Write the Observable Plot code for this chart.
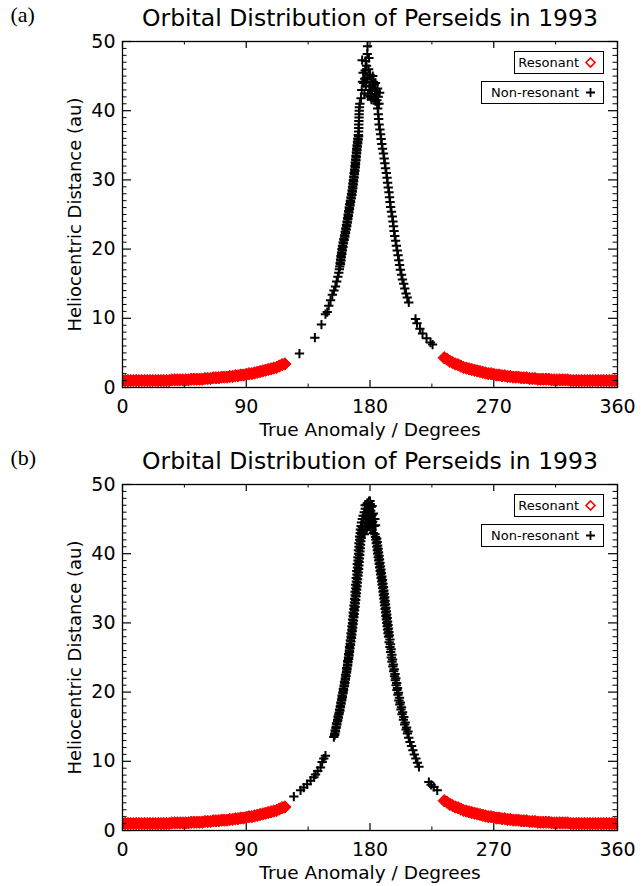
<!DOCTYPE html>
<html><head><meta charset="utf-8">
<script src="https://cdn.jsdelivr.net/npm/d3@7"></script>
<script src="https://cdn.jsdelivr.net/npm/@observablehq/plot@0.6"></script>
<style>
body{margin:0;background:#fff;}
#wrap{position:relative;width:644px;height:886px;font-family:"DejaVu Sans",sans-serif;}
.panel{position:relative;width:644px;height:443px;}
.panel svg{display:block;overflow:visible}
.leg{position:absolute;border:1px solid #000;background:#fff;height:23px;display:flex;align-items:center;justify-content:flex-end;padding:0 7px 0 0;box-sizing:border-box;font-size:13px;gap:6px;color:#000;line-height:1}
.leg svg{display:block}
</style></head><body><div id="wrap"></div>
<script>
// ---- text ----
const panelLabels = ["(a)", "(b)"];
const titles = ["Orbital Distribution of Perseids in 1993", "Orbital Distribution of Perseids in 1993"];
const xTitle = "True Anomaly / Degrees";
const yTitle = "Heliocentric Distance (au)";
const legendLabels = ["Resonant", "Non-resonant"];

// ---- ticks ----
const xTicks = [0, 90, 180, 270, 360];
const xMinorTicks = [45, 135, 225, 315];
const yTicks = [0, 10, 20, 30, 40, 50];
const yMinorTicks = [1,2,3,4,5,6,7,8,9,11,12,13,14,15,16,17,18,19,21,22,23,24,25,26,27,28,29,31,32,33,34,35,36,37,38,39,41,42,43,44,45,46,47,48,49];

// ---- resonant meteoroids (same band in both panels) : true anomaly (deg), distance (au) ----
const resonantAnomaly = [0,2,4,6,8,10,12,14,16,18,20,22,24,26,28,30,32,34,36,38,40,42,44,46,48,50,52,54,56,58,60,62,64,66,68,70,72,74,76,78,80,82,84,86,88,90,92,94,96,98,100,102,104,106,108,110,112,114,116,118,
  234,236,238,240,242,244,246,248,250,252,254,256,258,260,262,264,266,268,270,272,274,276,278,280,282,284,286,288,290,292,294,296,298,300,302,304,306,308,310,312,314,316,318,320,322,324,326,328,330,332,334,336,338,340,342,344,346,348,350,352,354,356,358,360];
const resonantDistance = [1.0,1.0,1.0,1.0,1.0,1.0,1.0,1.0,1.0,1.0,1.0,1.0,1.0,1.0,1.0,1.0,1.0,1.0,1.1,1.1,1.1,1.1,1.1,1.1,1.1,1.2,1.2,1.2,1.2,1.2,1.3,1.3,1.3,1.4,1.4,1.4,1.5,1.5,1.5,1.6,1.6,1.7,1.7,1.8,1.8,1.9,2.0,2.0,2.1,2.2,2.3,2.4,2.5,2.6,2.7,2.8,2.9,3.1,3.3,3.4,
  4.3,4.1,3.8,3.6,3.4,3.3,3.1,2.9,2.8,2.7,2.6,2.5,2.4,2.3,2.2,2.1,2.0,2.0,1.9,1.8,1.8,1.7,1.7,1.6,1.6,1.5,1.5,1.5,1.4,1.4,1.4,1.3,1.3,1.3,1.2,1.2,1.2,1.2,1.2,1.1,1.1,1.1,1.1,1.1,1.1,1.1,1.0,1.0,1.0,1.0,1.0,1.0,1.0,1.0,1.0,1.0,1.0,1.0,1.0,1.0,1.0,1.0,1.0,1.0];

// ---- non-resonant meteoroids, panel (a): [true anomaly, distance] ----
const nonResonantA = [
  [128.7,4.9],[139.9,7.2],[144.7,9.1],[147.6,10.6],[148.9,10.9],[150.0,11.8],[151.3,12.6],[152.6,13.4],[153.8,14.0],[154.9,14.6],[155.8,15.3],[156.6,16.0],[157.3,16.6],[157.7,17.1],
  [158.0,17.5],[158.3,18.0],[158.6,18.5],[158.9,19.0],[159.3,19.5],[159.6,20.0],[160.0,20.5],[160.5,21.0],[161.0,21.5],[161.5,22.0],[162.0,22.5],[162.4,23.0],[162.9,23.5],[163.3,24.0],[163.7,24.5],[164.1,25.0],[164.5,25.5],[164.9,26.0],[165.3,26.5],[165.7,27.0],[166.2,27.5],[166.6,28.0],[167.0,28.5],[167.3,29.0],[167.6,29.5],[167.9,30.0],[168.2,30.5],[168.5,31.0],[168.8,31.5],[169.1,32.0],[169.3,32.5],[169.6,33.0],[169.8,33.5],[170.1,34.0],[170.3,34.5],[170.6,35.0],[170.9,35.5],[171.2,36.0],[171.5,36.5],[171.7,37.0],[171.8,37.5],[171.8,38.0],[171.9,38.5],[172.0,39.0],[172.1,39.5],[172.2,40.0],[172.3,40.5],[172.6,41.0],
  [158.5,17.8],[158.8,18.3],[159.1,18.8],[159.5,19.3],[159.9,19.8],[160.3,20.3],[160.7,20.8],[161.2,21.3],[161.7,21.8],[162.2,22.3],[162.6,22.8],[163.1,23.3],[163.5,23.8],[163.9,24.3],[164.3,24.8],[164.7,25.3],[165.1,25.8],[165.5,26.3],[165.9,26.8],[166.4,27.3],[166.8,27.8],[167.2,28.3],[167.5,28.8],[167.8,29.3],[168.1,29.8],[168.4,30.3],[168.7,30.8],[169.0,31.3],[169.3,31.8],[169.5,32.3],[169.8,32.8],[170.0,33.3],[170.3,33.8],[170.5,34.3],[170.8,34.8],[171.1,35.3],[171.4,35.8],[171.7,36.3],
  [173.5,41.8],[174.0,43.0],[174.5,44.2],[175.0,45.5],[175.5,44.0],[176.0,42.5],[176.5,45.8],[177.0,43.6],[177.5,46.5],[178.0,44.8],[178.5,42.2],[179.0,46.0],[179.5,43.5],[180.0,45.2],[180.5,42.0],[181.0,44.5],[181.5,43.0],[182.0,45.0],[182.5,41.8],[183.0,43.8],[183.5,42.4],[184.0,44.0],[184.5,42.8],[185.0,41.5],[185.5,43.2],[186.0,42.0],[186.5,41.0],[187.0,42.6],[176.8,47.2],[179.2,47.6],[178.0,48.2],[174.3,47.3],[178.2,49.3],[177.0,44.2],[181.0,41.6],[176.2,44.6],[180.0,43.0],[182.5,44.2],[184.0,41.4],
  [185.2,41.0],[185.6,40.3],[186.0,39.5],[186.3,38.8],[186.6,38.0],[187.2,37.3],[187.7,36.6],[188.1,35.9],[188.6,35.2],[189.1,34.5],[189.8,33.8],[190.3,33.1],[190.8,32.4],[191.3,31.7],[191.9,31.0],[192.4,30.3],[192.8,29.6],[193.3,28.9],[193.8,28.2],[194.2,27.5],[194.6,26.8],[195.0,26.1],[195.6,25.4],[196.2,24.7],[196.7,24.0],[197.1,23.3],[197.5,22.6],[198.0,21.9],[198.6,21.2],[199.2,20.5],[199.8,19.8],[200.4,19.1],[201.0,18.4],[201.5,17.7],[202.1,17.0],[202.9,16.3],[203.6,15.6],[204.5,15.0],[205.3,14.3],[206.2,13.6],[207.1,13.0],[208.2,12.3],
  [213.1,9.9],[214.2,9.3],[216.3,8.5],[218.2,7.8],[221.1,7.1],[224.0,6.5],[225.5,6.2]
];

// ---- non-resonant meteoroids, panel (b): [true anomaly, distance] ----
const nonResonantB = [
  [124.6,4.9],[129.5,5.8],[131.8,6.2],[134.3,6.7],[136.8,7.2],[139.2,7.7],[140.4,8.1],[142.0,8.6],[144.0,9.1],[145.2,9.9],[146.4,10.4],[147.6,10.8],
  [153.7,13.5],[154.4,14.0],[154.7,14.5],[155.4,15.0],[155.7,15.5],[156.5,16.0],[156.8,16.5],[157.6,17.0],[157.9,17.5],[158.5,18.0],[158.8,18.5],[159.5,19.0],[159.7,19.5],[160.4,20.0],[160.6,20.5],[161.3,21.0],[161.5,21.5],[162.1,22.0],[162.3,22.5],[163.0,23.0],[163.1,23.5],[163.7,24.0],[163.8,24.5],[164.4,25.0],[164.5,25.5],[165.0,26.0],[165.1,26.5],[165.6,27.0],[165.7,27.5],[166.2,28.0],[166.2,28.5],[166.8,29.0],[166.8,29.5],[167.3,30.0],[167.3,30.5],[167.8,31.0],[167.8,31.5],[168.3,32.0],[168.3,32.5],[168.8,33.0],[168.8,33.5],[169.3,34.0],[169.2,34.5],[169.7,35.0],[169.6,35.5],[170.1,36.0],[170.0,36.5],[170.5,37.0],[170.4,37.5],[170.9,38.0],[170.8,38.5],[171.3,39.0],[171.2,39.5],[171.7,40.0],[171.6,40.5],[172.0,41.0],[172.0,41.5],[172.5,42.0],[172.4,42.5],[172.9,43.0],[173.0,43.5],[173.5,44.0],[173.8,44.5],[174.4,45.0],[175.0,45.5],[175.8,46.0],[176.6,46.5],[177.5,47.0],[178.5,47.3],[179.3,47.6],[180.2,47.2],[181.0,46.8],
  [154.3,13.8],[154.9,14.3],[155.3,14.8],[155.9,15.3],[156.4,15.8],[157.0,16.3],[157.4,16.8],[158.1,17.3],[158.5,17.8],[159.0,18.3],[159.4,18.8],[159.9,19.3],[160.3,19.8],[160.8,20.3],[161.2,20.8],[161.7,21.3],[162.1,21.8],[162.5,22.3],[162.9,22.8],[163.3,23.3],[163.7,23.8],[164.0,24.3],[164.4,24.8],[164.8,25.3],[165.1,25.8],[165.4,26.3],[165.8,26.8],[166.1,27.3],[166.5,27.8],[166.8,28.3],[167.1,28.8],[167.4,29.3],[167.7,29.8],[168.0,30.3],[168.3,30.8],[168.5,31.3],[168.8,31.8],[169.1,32.3],[169.3,32.8],[169.6,33.3],[169.8,33.8],[170.1,34.3],[170.3,34.8],[170.6,35.3],[170.8,35.8],[171.0,36.3],[171.3,36.8],[171.5,37.3],[171.7,37.8],[171.9,38.3],[172.1,38.8],[172.3,39.3],[172.5,39.8],[172.7,40.3],[172.9,40.8],[173.1,41.3],[173.3,41.8],[173.5,42.3],[173.8,42.8],[174.1,43.3],[174.4,43.8],
  [175.5,45.0],[176.5,45.5],[177.5,46.0],[178.5,46.4],[179.5,46.6],[180.5,46.2],[181.5,45.6],[176.0,44.0],[177.0,44.5],[178.0,45.0],[179.0,45.4],[180.0,45.3],[181.0,44.8],[182.0,44.6],[183.0,44.0],[177.5,43.5],[178.5,44.0],[179.5,44.2],[180.5,43.8],[181.5,43.4],[182.5,43.0],[176.5,47.0],[178.0,47.3],[179.0,47.0],[180.0,47.6],[181.5,46.9],[182.5,45.8],[183.5,45.0],[184.0,44.1],[174.5,44.0],[175.0,43.2],[176.0,42.8],
  [183.6,42.8],[184.0,42.4],[184.3,42.0],[184.6,41.5],[185.0,41.0],[185.3,40.5],[185.6,40.0],[186.0,39.5],[186.3,39.0],[186.7,38.5],[187.0,38.0],[187.4,37.5],[187.7,37.0],[188.1,36.5],[188.5,36.0],[188.8,35.5],[189.2,35.0],[189.5,34.5],[189.8,34.0],[190.1,33.5],[190.4,33.0],[190.7,32.5],[191.0,32.0],[191.3,31.5],[191.6,31.0],[191.9,30.5],[192.2,30.0],[192.5,29.5],[192.8,29.0],[193.1,28.5],[193.5,28.0],[193.9,27.2],[194.5,26.5],[195.0,25.8],[195.5,25.0],[196.0,24.4],[196.6,23.7],[197.2,23.0],[197.8,22.3],[198.4,21.7],[199.0,21.0],[199.6,20.3],[200.3,19.6],[201.0,18.8],[201.7,18.2],[202.5,17.5],[203.3,16.8],[204.3,16.0],[205.2,15.3],[206.3,14.6],[207.2,14.0],[208.2,13.4],[209.1,12.8],[210.2,12.2],[211.2,11.6],[212.2,11.0],[213.4,10.4],[214.5,9.8],[215.6,9.2],
  [184.9,42.2],[185.2,41.7],[185.6,41.2],[185.9,40.7],[186.2,40.2],[186.6,39.7],[186.9,39.2],[187.3,38.7],[187.6,38.2],[188.0,37.7],[188.3,37.2],[188.7,36.7],[189.1,36.2],[189.4,35.7],[189.8,35.2],[190.1,34.7],[190.4,34.2],[190.7,33.7],[191.0,33.2],[191.3,32.7],[191.6,32.2],[191.9,31.7],[192.2,31.2],[192.5,30.7],[192.8,30.2],[193.1,29.7],[193.4,29.2],[193.7,28.7],[194.1,28.2],[194.5,27.6],[194.9,26.9],[195.4,26.2],[195.9,25.4],[196.4,24.7],[197.0,24.0],[197.6,23.3],[198.2,22.6],[198.8,22.0],[199.4,21.3],[200.0,20.6],[200.7,19.9],[201.4,19.2],[202.1,18.5],[202.9,17.8],[203.7,17.1],[204.6,16.4],[205.6,15.6],[206.6,14.9],[207.6,14.3],
  [222.8,7.0],[224.5,6.6],[226.4,6.3],[228.9,5.8]
];

const panels = [nonResonantA, nonResonantB];
const resonant = resonantAnomaly.map((a, i) => ({a, r: resonantDistance[i]}));

const W = 644, H = 443, ML = 122, MR = 27, MT = 41, MB = 56;
const FW = W - ML - MR, FH = H - MT - MB;
const FONT = '"DejaVu Sans", sans-serif';

const wrap = document.getElementById("wrap");
panels.forEach((pts, k) => {
  const div = document.createElement("div");
  div.className = "panel";
  const chart = Plot.plot({
    width: W, height: H,
    marginLeft: ML, marginRight: MR, marginTop: MT, marginBottom: MB,
    x: {domain: [0, 360]},
    y: {domain: [0, 50]},
    style: {fontFamily: FONT, background: "white", color: "black", overflow: "visible"},
    marks: [
      Plot.dot(resonant, {x: "a", y: "r", symbol: "diamond2", r: 5.6, fill: "#ff0000", stroke: "#ff0000", strokeWidth: 1, clip: "frame"}),
      Plot.dot(pts, {x: d => d[0], y: d => d[1], symbol: "plus", r: 3.1, stroke: "black", strokeWidth: 2}),
      Plot.frame({stroke: "black", strokeWidth: 1.3}),
      Plot.tickY(yMinorTicks, {y: d => d, insetRight: FW - 4.5, strokeWidth: 1}),
      Plot.tickY(yMinorTicks, {y: d => d, insetLeft: FW - 4.5, strokeWidth: 1}),
      Plot.tickY(yTicks, {y: d => d, insetRight: FW - 9, strokeWidth: 1.2}),
      Plot.tickY(yTicks, {y: d => d, insetLeft: FW - 9, strokeWidth: 1.2}),
      Plot.tickX(xMinorTicks, {x: d => d, insetTop: FH - 3.5, strokeWidth: 1}),
      Plot.tickX(xMinorTicks, {x: d => d, insetBottom: FH - 3.5, strokeWidth: 1}),
      Plot.tickX(xTicks, {x: d => d, insetTop: FH - 7, strokeWidth: 1.2}),
      Plot.tickX(xTicks, {x: d => d, insetBottom: FH - 7, strokeWidth: 1.2}),
      Plot.axisX({ticks: xTicks, tickSize: 0, tickPadding: 12, fontSize: 19, label: null, tickFormat: d => String(d)}),
      Plot.axisY({ticks: yTicks, tickSize: 0, tickPadding: 7, fontSize: 19, label: null, tickFormat: d => String(d)}),
      Plot.text([xTitle], {text: d => d, frameAnchor: "bottom", lineAnchor: "middle", textAnchor: "middle", dy: 43, fontSize: 18.5}),
      Plot.text([yTitle], {text: d => d, frameAnchor: "left", lineAnchor: "middle", textAnchor: "middle", rotate: -90, dx: -47, fontSize: 18}),
      Plot.text([titles[k]], {text: d => d, frameAnchor: "top", lineAnchor: "middle", textAnchor: "middle", dy: -23, fontSize: 23.5}),
      Plot.text([panelLabels[k]], {text: d => d, frameAnchor: "top-left", lineAnchor: "middle", textAnchor: "start", dx: -112, dy: -27, fontSize: 22, fontFamily: '"Liberation Serif", serif'})
    ]
  });
  div.appendChild(chart);
  const l1 = document.createElement("div");
  l1.className = "leg";
  l1.style.cssText = "left:514px;top:51px;width:90px";
  l1.innerHTML = `<span>${legendLabels[0]}</span><svg width="11" height="11"><path d="M5.5 1 L10 5.5 L5.5 10 L1 5.5Z" fill="none" stroke="#ff0000" stroke-width="1.6"/></svg>`;
  const l2 = document.createElement("div");
  l2.className = "leg";
  l2.style.cssText = "left:481px;top:81px;width:123px";
  l2.innerHTML = `<span>${legendLabels[1]}</span><svg width="11" height="11"><path d="M1 5.5 H10 M5.5 1 V10" fill="none" stroke="#000" stroke-width="1.8"/></svg>`;
  div.appendChild(l1);
  div.appendChild(l2);
  wrap.appendChild(div);
});
</script></body></html>
